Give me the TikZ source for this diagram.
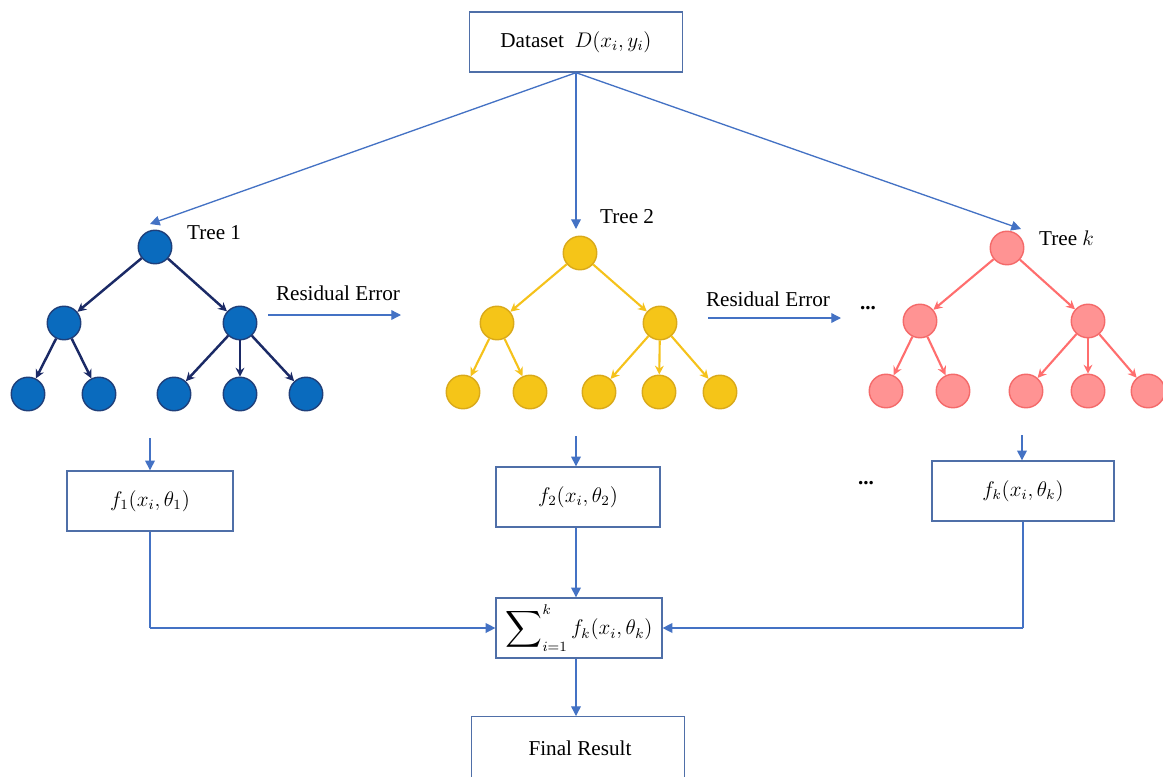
\documentclass[tikz,border=0pt]{standalone}
\usepackage{fontspec}
\usepackage{graphicx}
\setmainfont{Liberation Serif}
\usetikzlibrary{arrows.meta}
\definecolor{flow}{HTML}{4472C4}
\definecolor{boxline}{HTML}{4F6FA8}
\definecolor{navy}{HTML}{1B2A66}
\definecolor{blueFill}{HTML}{0A6BBE}
\definecolor{blueLine}{HTML}{1F3F7A}
\definecolor{gold}{HTML}{F5C518}
\definecolor{goldLine}{HTML}{D9A91A}
\definecolor{goldEdge}{HTML}{F5C21B}
\definecolor{rose}{HTML}{FF9393}
\definecolor{roseLine}{HTML}{F46A6A}
\definecolor{roseEdge}{HTML}{FF6E6E}
\newcommand{\bigsum}{\mathop{\vcenter{\hbox{\scalebox{1.45}{$\displaystyle\sum$}}}}\nolimits}
\tikzset{
  txt/.style={font=\fontsize{12}{14}\selectfont, inner sep=1pt},
  box/.style={draw=boxline, line width=0.8pt, fill=white, font=\fontsize{12}{14}\selectfont,
              minimum height=34pt, inner sep=2pt},
  flowarrow/.style={draw=flow, line width=0.75pt, -{Triangle[length=5.5pt,width=5.5pt]}},
  flowline/.style={draw=flow, line width=0.75pt},
  tnode/.style={circle, minimum size=19pt, inner sep=0pt, line width=0.8pt},
}
\begin{document}
\begin{tikzpicture}[x=0.567pt, y=-0.567pt]
\useasboundingbox (0,0) rectangle (1163,776);

% boxes
\node[box, minimum width=121pt] (data) at (576,42) {Dataset\ \ $D(x_i,y_i)$};
\node[box, minimum width=94pt] (f1) at (150,501) {$f_1(x_i,\theta_1)$};
\node[box, minimum width=93pt] (f2) at (578,497) {$f_2(x_i,\theta_2)$};
\node[box, minimum width=103pt] (fk) at (1023,491) {$f_k(x_i,\theta_k)$};
\node[box, minimum width=94pt] (sum) at (579,628) {$\bigsum_{i=1}^{k} f_k(x_i,\theta_k)$};
\node[box, minimum width=121pt, minimum height=40pt] (final) at (578,752) {};
\node[txt] (finaltxt) at (580,748) {Final Result};

% tree 1
\begin{scope}[every node/.append style={tnode, fill=blueFill, draw=blueLine},
              te/.style={draw=navy, line width=1.4pt, -{Stealth[length=5pt,width=5pt]}}]
\node (a0) at (155,247) {};
\node (a1) at (64,323) {};
\node (a2) at (240,323) {};
\node (a3) at (28,394) {};
\node (a4) at (99,394) {};
\node (a5) at (174,394) {};
\node (a6) at (240,394) {};
\node (a7) at (306,394) {};
\draw[te] (a0) -- (a1);
\draw[te] (a0) -- (a2);
\draw[te] (a1) -- (a3);
\draw[te] (a1) -- (a4);
\draw[te] (a2) -- (a5);
\draw[te] (a2) -- (a6);
\draw[te] (a2) -- (a7);
\end{scope}

% tree 2
\begin{scope}[every node/.append style={tnode, fill=gold, draw=goldLine},
              te/.style={draw=goldEdge, line width=1.2pt, -{Stealth[length=5pt,width=5pt]}}]
\node (b0) at (580,253) {};
\node (b1) at (497,323) {};
\node (b2) at (660,323) {};
\node (b3) at (463,392) {};
\node (b4) at (530,392) {};
\node (b5) at (599,392) {};
\node (b6) at (659,392) {};
\node (b7) at (720,392) {};
\draw[te] (b0) -- (b1);
\draw[te] (b0) -- (b2);
\draw[te] (b1) -- (b3);
\draw[te] (b1) -- (b4);
\draw[te] (b2) -- (b5);
\draw[te] (b2) -- (b6);
\draw[te] (b2) -- (b7);
\end{scope}

% tree k
\begin{scope}[every node/.append style={tnode, fill=rose, draw=roseLine},
              te/.style={draw=roseEdge, line width=1.2pt, -{Stealth[length=5pt,width=5pt]}}]
\node (c0) at (1007,248) {};
\node (c1) at (920,321) {};
\node (c2) at (1088,321) {};
\node (c3) at (886,391) {};
\node (c4) at (953,391) {};
\node (c5) at (1026,391) {};
\node (c6) at (1088,391) {};
\node (c7) at (1148,391) {};
\draw[te] (c0) -- (c1);
\draw[te] (c0) -- (c2);
\draw[te] (c1) -- (c3);
\draw[te] (c1) -- (c4);
\draw[te] (c2) -- (c5);
\draw[te] (c2) -- (c6);
\draw[te] (c2) -- (c7);
\end{scope}

% labels
\node[txt, anchor=west] (t1) at (185,233) {Tree 1};
\node[txt, anchor=west] (t2) at (598,217) {Tree 2};
\node[txt, anchor=west] (tk) at (1037,238) {Tree $k$};
\node[txt] (re1) at (338,293) {Residual Error};
\node[txt] (re2) at (768,299) {Residual Error};
\node[txt] (dots1) at (868,308) {\textbf{...}};
\node[txt] (dots2) at (866,483) {\textbf{...}};

% dataset to trees
\coordinate (d1) at (150,224);
\coordinate (d2) at (576,229);
\coordinate (dk) at (1021,229);
\draw[flowarrow] (data.south) -- (d1);
\draw[flowarrow] (data.south) -- (d2);
\draw[flowarrow] (data.south) -- (dk);

% residual error arrows
\coordinate (r1s) at (268,315);
\coordinate (r1e) at (401,315);
\coordinate (r2s) at (708,318);
\coordinate (r2e) at (841,318);
\draw[flowarrow] (r1s) -- (r1e);
\draw[flowarrow] (r2s) -- (r2e);

% tree outputs
\coordinate (o1) at (150,438);
\coordinate (o2) at (576,436);
\coordinate (ok) at (1022,435);
\draw[flowarrow] (o1) -- (f1.north);
\draw[flowarrow] (o2) -- (o2 |- f2.north);
\draw[flowarrow] (ok) -- (ok |- fk.north);

% aggregation
\draw[flowline] (f1.south) -- (f1.south |- sum.west);
\draw[flowarrow] (f1.south |- sum.west) -- (sum.west);
\draw[flowline] (fk.south) -- (fk.south |- sum.east);
\draw[flowarrow] (fk.south |- sum.east) -- (sum.east);
\draw[flowarrow] (o2 |- f2.south) -- (o2 |- sum.north);
\draw[flowarrow] (o2 |- sum.south) -- (o2 |- final.north);
\end{tikzpicture}
\end{document}
